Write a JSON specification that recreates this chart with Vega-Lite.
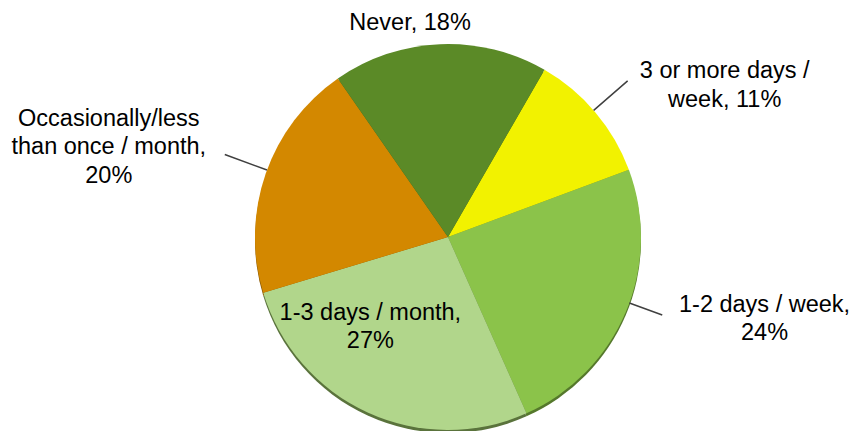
{
  "$schema": "https://vega.github.io/schema/vega-lite/v6.json",
  "width": 808,
  "height": 388,
  "autosize": {"type": "none"},
  "padding": {"left": 44, "top": 43, "right": 0, "bottom": 0},
  "background": "white",
  "config": {"view": {"stroke": null}},
  "data": {
    "values": [
      {"cat": "3 or more days / week", "label": "3 or more days /\nweek, 11%", "value": 11, "order": 1},
      {"cat": "1-2 days / week", "label": "1-2 days / week,\n24%", "value": 24, "order": 2},
      {"cat": "1-3 days / month", "label": "1-3 days / month,\n27%", "value": 27, "order": 3},
      {"cat": "Occasionally/less than once / month", "label": "Occasionally/less\nthan once / month,\n20%", "value": 20, "order": 4},
      {"cat": "Never", "label": "Never, 18%", "value": 18, "order": 5}
    ]
  },
  "resolve": {"scale": {"theta": "independent", "color": "independent", "fill": "independent"}},
  "layer": [
    {
      "mark": {"type": "arc", "outerRadius": 193, "yOffset": 3},
      "encoding": {
        "theta": {"field": "value", "type": "quantitative", "stack": true, "scale": {"domain": [0, 100], "range": [0.5236, 6.8068]}},
        "order": {"field": "order", "type": "quantitative"},
        "fill": {"field": "cat", "type": "nominal", "legend": null,
          "scale": {"domain": ["3 or more days / week", "1-2 days / week", "1-3 days / month", "Occasionally/less than once / month", "Never"],
                    "range": ["#a6a600", "#55782c", "#5a733c", "#8a5800", "#3d5e1a"]}}
      }
    },
    {
      "mark": {"type": "arc", "outerRadius": 193},
      "encoding": {
        "theta": {"field": "value", "type": "quantitative", "stack": true, "scale": {"domain": [0, 100], "range": [0.5236, 6.8068]}},
        "order": {"field": "order", "type": "quantitative"},
        "color": {"field": "cat", "type": "nominal", "legend": null,
          "scale": {"domain": ["3 or more days / week", "1-2 days / week", "1-3 days / month", "Occasionally/less than once / month", "Never"],
                    "range": ["#F2F200", "#8BC34A", "#B1D68B", "#D38800", "#5B8A27"]}}
      }
    },
    {
      "transform": [
        {"stack": "value", "groupby": [], "sort": [{"field": "order", "order": "ascending"}], "as": ["v0", "v1"]},
        {"filter": "datum.cat === '3 or more days / week'"}
      ],
      "mark": {"type": "arc", "outerRadius": 238, "innerRadius": 193, "fillOpacity": 0, "stroke": "#404040", "strokeWidth": 1.5},
      "encoding": {
        "theta": {"field": "v0", "type": "quantitative", "stack": null, "scale": {"domain": [0, 100], "range": [0.8552, 7.1384]}},
        "theta2": {"field": "v0"}
      }
    },
    {
      "transform": [
        {"stack": "value", "groupby": [], "sort": [{"field": "order", "order": "ascending"}], "as": ["v0", "v1"]},
        {"filter": "datum.cat === 'Occasionally/less than once / month'"}
      ],
      "mark": {"type": "arc", "outerRadius": 238, "innerRadius": 193, "fillOpacity": 0, "stroke": "#404040", "strokeWidth": 1.5},
      "encoding": {
        "theta": {"field": "v0", "type": "quantitative", "stack": null, "scale": {"domain": [0, 100], "range": [1.1711, 7.4543]}},
        "theta2": {"field": "v0"}
      }
    },
    {
      "transform": [
        {"stack": "value", "groupby": [], "sort": [{"field": "order", "order": "ascending"}], "as": ["v0", "v1"]},
        {"filter": "datum.cat === '1-2 days / week'"}
      ],
      "mark": {"type": "arc", "outerRadius": 228, "innerRadius": 193, "fillOpacity": 0, "stroke": "#404040", "strokeWidth": 1.5},
      "encoding": {
        "theta": {"field": "v0", "type": "quantitative", "stack": null, "scale": {"domain": [0, 100], "range": [1.2287, 7.5119]}},
        "theta2": {"field": "v0"}
      }
    },
    {
      "mark": {"type": "text", "radius": 214, "dx": -29, "dy": 0, "font": "Liberation Sans", "fontSize": 23.5, "lineHeight": 28.5, "lineBreak": "\n", "align": "center", "baseline": "middle", "color": "#000000"},
      "encoding": {
        "theta": {"field": "value", "type": "quantitative", "stack": true, "scale": {"domain": [0, 100], "range": [0.5236, 6.8068]}},
        "order": {"field": "order", "type": "quantitative"},
        "detail": {"field": "cat", "type": "nominal"},
        "text": {"condition": {"test": "datum.cat === 'Never'", "field": "label"}, "value": ""}
      }
    },
    {
      "mark": {"type": "text", "radius": 230, "dx": 101, "dy": -17.25, "font": "Liberation Sans", "fontSize": 23.5, "lineHeight": 28.5, "lineBreak": "\n", "align": "center", "baseline": "middle", "color": "#000000"},
      "encoding": {
        "theta": {"field": "value", "type": "quantitative", "stack": true, "scale": {"domain": [0, 100], "range": [0.5236, 6.8068]}},
        "order": {"field": "order", "type": "quantitative"},
        "detail": {"field": "cat", "type": "nominal"},
        "text": {"condition": {"test": "datum.cat === '3 or more days / week'", "field": "label"}, "value": ""}
      }
    },
    {
      "mark": {"type": "text", "radius": 230, "dx": 104.5, "dy": -21.25, "font": "Liberation Sans", "fontSize": 23.5, "lineHeight": 28.5, "lineBreak": "\n", "align": "center", "baseline": "middle", "color": "#000000"},
      "encoding": {
        "theta": {"field": "value", "type": "quantitative", "stack": true, "scale": {"domain": [0, 100], "range": [0.5236, 6.8068]}},
        "order": {"field": "order", "type": "quantitative"},
        "detail": {"field": "cat", "type": "nominal"},
        "text": {"condition": {"test": "datum.cat === '1-2 days / week'", "field": "label"}, "value": ""}
      }
    },
    {
      "mark": {"type": "text", "radius": 100, "dx": -36, "dy": -15.25, "font": "Liberation Sans", "fontSize": 23.5, "lineHeight": 28.5, "lineBreak": "\n", "align": "center", "baseline": "middle", "color": "#000000"},
      "encoding": {
        "theta": {"field": "value", "type": "quantitative", "stack": true, "scale": {"domain": [0, 100], "range": [0.5236, 6.8068]}},
        "order": {"field": "order", "type": "quantitative"},
        "detail": {"field": "cat", "type": "nominal"},
        "text": {"condition": {"test": "datum.cat === '1-3 days / month'", "field": "label"}, "value": ""}
      }
    },
    {
      "mark": {"type": "text", "radius": 230, "dx": -122, "dy": -42.5, "font": "Liberation Sans", "fontSize": 23.5, "lineHeight": 28.5, "lineBreak": "\n", "align": "center", "baseline": "middle", "color": "#000000"},
      "encoding": {
        "theta": {"field": "value", "type": "quantitative", "stack": true, "scale": {"domain": [0, 100], "range": [0.5236, 6.8068]}},
        "order": {"field": "order", "type": "quantitative"},
        "detail": {"field": "cat", "type": "nominal"},
        "text": {"condition": {"test": "datum.cat === 'Occasionally/less than once / month'", "field": "label"}, "value": ""}
      }
    }
  ]
}
